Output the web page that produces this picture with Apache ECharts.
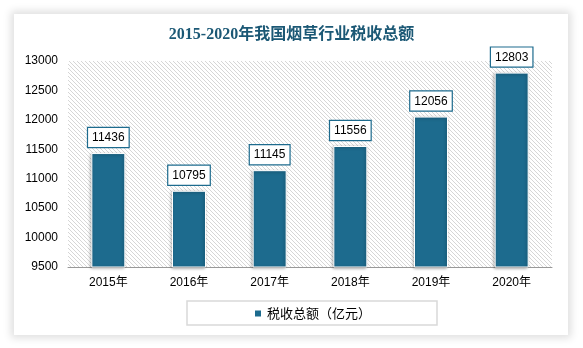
<!DOCTYPE html>
<html><head><meta charset="utf-8">
<script src="https://cdn.jsdelivr.net/npm/echarts@6/dist/echarts.min.js"></script>
<style>
html,body{margin:0;padding:0;background:#fff;}
#card{position:absolute;left:14px;top:14px;width:554px;height:321px;background:#fff;box-shadow:0 0 8px 3px rgba(0,0,0,0.13);}
#c{position:absolute;left:0;top:0;width:583px;height:348px;}
</style></head>
<body>
<div id="card"></div>
<div id="c"></div>
<script>
const categories = ['2015年','2016年','2017年','2018年','2019年','2020年'];
const taxValues = [11436, 10795, 11145, 11556, 12056, 12803];
const yTicks = [9500, 10000, 10500, 11000, 11500, 12000, 12500, 13000];
const seriesName = '税收总额（亿元）';
const titleText = '2015-2020年我国烟草行业税收总额';

const cv = document.createElement('canvas');
cv.width = 4; cv.height = 4;
const cx = cv.getContext('2d');
cx.fillStyle = '#fff'; cx.fillRect(0,0,4,4);
cx.fillStyle = '#d6d6d6';
for (let i = 0; i < 4; i++) cx.fillRect(i, i, 1, 1);

const chart = echarts.init(document.getElementById('c'), null, {renderer:'canvas'});
chart.setOption({
  backgroundColor: 'transparent',
  animation: false,
  title: {
    text: titleText, left: 'center', top: 22,
    textStyle: {fontFamily: '"Liberation Serif","Noto Sans CJK SC",serif', fontWeight: 'bold', fontSize: 16, color: '#1b5875'}
  },
  grid: {left: 68, right: 31, top: 61, bottom: 81, show: true, borderWidth: 0,
    backgroundColor: {image: cv, repeat: 'repeat'}},
  legend: {
    bottom: 23, left: 187, padding: [6, 66, 5, 66],
    borderColor: '#d9d9d9', borderWidth: 1.5,
    itemWidth: 8, itemHeight: 8, itemGap: 5,
    icon: 'rect',
    textStyle: {fontSize: 13, color: '#000', fontFamily: '"Noto Sans CJK SC", sans-serif'},
    data: [seriesName]
  },
  xAxis: {
    type: 'category', data: categories,
    axisLine: {lineStyle: {color: '#999', width: 1}},
    axisTick: {show: false},
    axisLabel: {color: '#000', fontSize: 12, margin: 10, fontFamily: '"Liberation Sans","Noto Sans CJK SC",sans-serif'}
  },
  yAxis: {
    type: 'value', min: yTicks[0], max: yTicks[yTicks.length-1], interval: 500,
    axisLine: {show: false}, axisTick: {show: false}, splitLine: {show: false},
    axisLabel: {color: '#000', fontSize: 12, margin: 10, fontFamily: '"Liberation Sans",sans-serif',
      formatter: v => String(v)}
  },
  series: [{
    name: seriesName, type: 'bar', data: taxValues, barWidth: 34,
    itemStyle: {color: '#1d6b8e', borderColor: '#fff', borderWidth: 1,
      shadowColor: 'rgba(0,0,0,0.35)', shadowBlur: 3, shadowOffsetX: -1, shadowOffsetY: 1},
    label: {
      show: true, position: 'top', distance: 6,
      color: '#000', fontSize: 12, fontFamily: '"Liberation Sans",sans-serif',
      backgroundColor: '#fff', borderColor: '#1d6b8e', borderWidth: 1.2,
      padding: [4, 4, 3, 4]
    }
  }]
});
</script>
</body></html>
